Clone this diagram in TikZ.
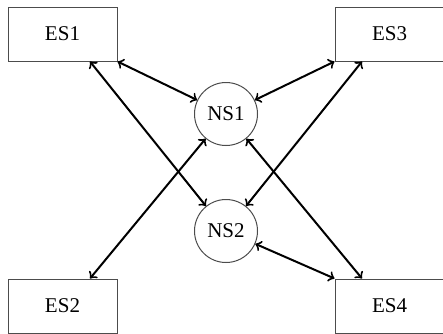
\documentclass[tikz,border=0pt]{standalone}
\usepackage{fontspec}
\setmainfont{Liberation Serif}
\usetikzlibrary{calc,positioning}
\tikzset{
    RA/.style ={rectangle,minimum width = 54.5pt, minimum height =27pt, draw=black!70, line width=0.5pt, inner sep=0pt},
    CC/.style ={circle,minimum size = 31.5pt, draw=black!70, line width=0.5pt, inner sep=0pt},
    AR/.style ={<->, line width=1pt, shorten <=0pt}}

\begin{document}
\begin{tikzpicture}[x=1pt,y=1pt,font=\fontsize{10.5}{12}\selectfont]
        \useasboundingbox (0,0) rectangle (221.5,-166.5);
        % end systems
        \node[RA] (es1) at (31.25,-17) {ES1};
        \node[RA] (es3) at (194.75,-17) {ES3};
        \node[RA] (es2) at (31.25,-153) {ES2};
        \node[RA] (es4) at (194.75,-153) {ES4};
        % network switches
        \node[CC] (ns1) at (113,-57) {NS1};
        \node[CC, below=26.5pt of ns1] (ns2) {NS2};
        % links
        \draw[AR] (es1.south east) -- (ns1);
        \draw[AR] ($(es1.south)!.5!(es1.south east)$) -- (ns2);
        \draw[AR] (es3.south west) -- (ns1);
        \draw[AR] ($(es3.south)!.5!(es3.south west)$) -- (ns2);
        \draw[AR] ($(es2.north)!.5!(es2.north east)$) -- (ns1);
        \draw[AR] (es4.north west) -- (ns2);
        \draw[AR] ($(es4.north)!.5!(es4.north west)$) -- (ns1);
\end{tikzpicture}
\end{document}
